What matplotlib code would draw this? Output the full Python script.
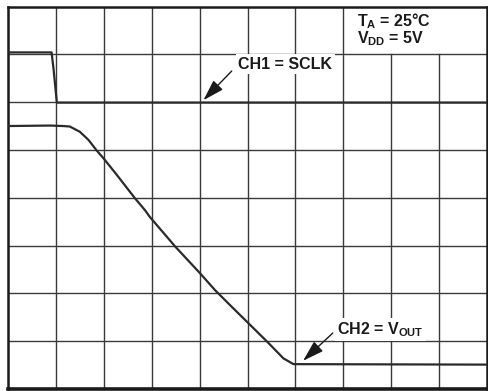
import numpy as np
import matplotlib
matplotlib.use("Agg")
import matplotlib.pyplot as plt

plt.rcParams["font.family"] = ["Liberation Sans", "DejaVu Sans"]
plt.rcParams["mathtext.fontset"] = "custom"
plt.rcParams["mathtext.rm"] = "Liberation Sans:bold"
plt.rcParams["mathtext.it"] = "Liberation Sans:bold"
plt.rcParams["mathtext.bf"] = "Liberation Sans:bold"

# screen divisions: 10 horizontal, 8 vertical
n_xdiv = 10
n_ydiv = 8

# CH1 = SCLK trace (divisions)
ch1_t = [0.0, 0.91, 0.95, 1.02, 10.0]
ch1_v = [7.04, 7.04, 6.7, 5.99, 5.99]

# CH2 = VOUT trace (divisions)
ch2_t = [0.0, 0.88, 1.15, 1.29, 1.50, 1.68, 1.85, 1.99, 2.27, 2.65, 2.86,
         2.96, 3.49, 4.01, 4.32, 4.63, 5.43, 5.75, 5.96, 10.0]
ch2_v = [5.50, 5.51, 5.50, 5.49, 5.38, 5.21, 4.99, 4.83, 4.48, 3.99, 3.74,
         3.60, 2.98, 2.42, 2.07, 1.76, 0.97, 0.64, 0.52, 0.51]

fig = plt.figure(figsize=(4.89, 3.91), dpi=100)
ax = fig.add_axes([8 / 489, 2 / 391, 479 / 489, 382.5 / 391])
ax.set_xlim(0, n_xdiv)
ax.set_ylim(0, n_ydiv)

# the top-right cells are left open for the conditions box
for i in range(1, n_xdiv):
    top = 7 / n_ydiv if i >= 8 else 1.0
    ax.axvline(i, ymax=top, color="#3a3a3a", lw=1.0, zorder=1)
for j in range(1, n_ydiv):
    ax.axhline(j, color="#3a3a3a", lw=1.0, zorder=1)

ax.set_xticks([])
ax.set_yticks([])
for side in ax.spines:
    ax.spines[side].set_linewidth(1.8)
    ax.spines[side].set_color("#1a1a1a")
ax.spines["bottom"].set_linewidth(2.6)

ax.plot(ch1_t, ch1_v, color="#2a2a2a", lw=1.6, zorder=3)
ax.plot(ch2_t, ch2_v, color="#2a2a2a", lw=1.6, zorder=3)

# labels and arrows
label_box = dict(boxstyle="square,pad=0.15", fc="white", ec="none")
arrow = dict(arrowstyle="-|>,head_length=1.3,head_width=0.4",
             color="#1a1a1a", lw=1.0, shrinkA=0, shrinkB=0)

ax.annotate("", xy=(4.08, 6.04), xytext=(4.67, 6.65),
            arrowprops=arrow, zorder=4)
ax.text(4.81, 6.70, "CH1 = SCLK", fontsize=11.5, fontweight="bold",
        color="#1a1a1a", ha="left", va="baseline", bbox=label_box, zorder=4)

ax.annotate("", xy=(6.16, 0.59), xytext=(6.78, 1.17),
            arrowprops=arrow, zorder=4)
ax.text(6.87, 1.15, "CH2 = V$_{OUT}$", fontsize=11.5, fontweight="bold",
        color="#1a1a1a", ha="left", va="baseline", bbox=label_box, zorder=4)

ax.text(7.29, 7.59, "T$_{A}$ = 25°C", fontsize=11.5, fontweight="bold",
        color="#1a1a1a", ha="left", va="baseline", zorder=4)
ax.text(7.29, 7.22, "V$_{DD}$ = 5V", fontsize=11.5, fontweight="bold",
        color="#1a1a1a", ha="left", va="baseline", zorder=4)

fig.savefig("out.png", dpi=100)
